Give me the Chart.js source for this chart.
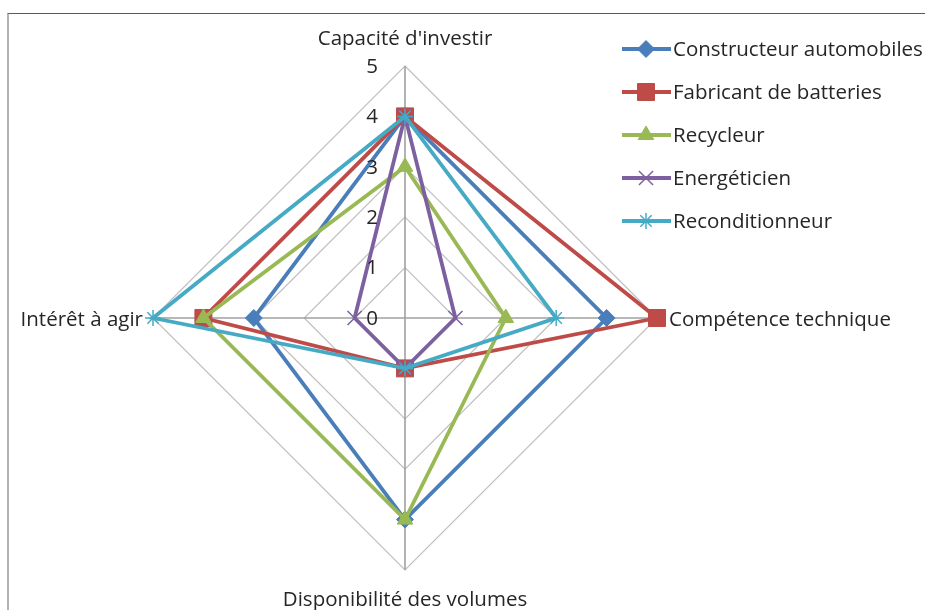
<!DOCTYPE html>
<html lang="fr">
<head>
<meta charset="UTF-8">
<title>Positionnement des acteurs</title>
<script src="https://cdn.jsdelivr.net/npm/chart.js"></script>
<style>
  html, body { margin: 0; padding: 0; background: #fff; }
  .cadre { position: relative; width: 925px; height: 610px; overflow: hidden; }
  .bord { position: absolute; left: 7px; top: 13px; right: -5px; bottom: -5px;
          border-top: 1px solid #5a5a5a; border-left: 2px solid #b4b4b4; }
  canvas { position: absolute; left: 0; top: 0; }
</style>
</head>
<body>
<div class="cadre">
  <div class="bord"></div>
  <canvas id="radar" width="925" height="610"></canvas>
</div>

<script>
// donnees
const axes = ["Capacité d'investir", 'Compétence technique', 'Disponibilité des volumes', 'Intérêt à agir'];
const acteurs = ['Constructeur automobiles', 'Fabricant de batteries', 'Recycleur', 'Energéticien', 'Reconditionneur'];
const constructeur = [4, 4, 4, 3];
const fabricant = [4, 5, 1, 4];
const recycleur = [3, 2, 4, 4];
const energeticien = [4, 1, 1, 1];
const reconditionneur = [4, 3, 1, 5];
const graduations = [0, 1, 2, 3, 4, 5];

const couleurs = ['#4a7ebb', '#be4b48', '#98b954', '#7d60a0', '#46aac5'];
const marqueurs = ['rectRot', 'rect', 'triangle', 'crossRot', 'star'];
const tailles = [8.5, 12, 9, 10, 8];
const police = '"Open Sans", "DejaVu Sans", sans-serif';

const valeurs = [constructeur, fabricant, recycleur, energeticien, reconditionneur];

const datasets = acteurs.map(function (nom, i) {
    const trait = marqueurs[i] == 'crossRot' || marqueurs[i] == 'star';
    return {
        label: nom,
        data: valeurs[i],
        borderColor: couleurs[i],
        backgroundColor: couleurs[i],
        borderWidth: 3.8,
        fill: false,
        pointStyle: marqueurs[i],
        pointRadius: tailles[i],
        pointBorderWidth: trait ? 1.5 : 1,
        pointBackgroundColor: couleurs[i],
        pointBorderColor: couleurs[i],
        order: acteurs.length - i
    };
});

// textes des axes, graduations et legende dessines a la main
const habillage = {
    id: 'habillage',
    afterDraw(chart) {
        const ctx = chart.ctx;
        const r = chart.scales.r;
        ctx.save();
        ctx.fillStyle = '#262626';
        ctx.font = '20.5px ' + police;
        ctx.textBaseline = 'middle';

        // graduations a gauche de l'axe vertical
        ctx.textAlign = 'right';
        graduations.forEach(function (v) {
            const p = r.getPointPositionForValue(0, v);
            ctx.fillText(String(v), p.x - 27, p.y + 1);
        });

        // noms des axes
        const max = graduations[graduations.length - 1];
        const haut = r.getPointPositionForValue(0, max);
        const droite = r.getPointPositionForValue(1, max);
        const bas = r.getPointPositionForValue(2, max);
        const gauche = r.getPointPositionForValue(3, max);
        ctx.textAlign = 'center';
        ctx.fillText(axes[0], haut.x, haut.y - 27);
        ctx.fillText(axes[2], bas.x, bas.y + 30);
        ctx.textAlign = 'left';
        ctx.fillText(axes[1], droite.x + 12, droite.y + 2);
        ctx.textAlign = 'right';
        ctx.fillText(axes[3], gauche.x - 10, gauche.y + 2);

        // legende
        ctx.textAlign = 'left';
        acteurs.forEach(function (nom, i) {
            const y = 49 + i * 43;
            ctx.strokeStyle = couleurs[i];
            ctx.lineWidth = 3.8;
            ctx.beginPath();
            ctx.moveTo(622, y);
            ctx.lineTo(671, y);
            ctx.stroke();
            ctx.fillStyle = couleurs[i];
            ctx.lineWidth = datasets[i].pointBorderWidth;
            Chart.helpers.drawPoint(ctx, { pointStyle: marqueurs[i], radius: tailles[i], rotation: 0, borderWidth: datasets[i].pointBorderWidth }, 646, y);
            ctx.fillStyle = '#262626';
            ctx.fillText(nom, 673, y + 1);
        });
        ctx.restore();
    }
};

const ctx = document.getElementById('radar').getContext('2d');
const graphique = new Chart(ctx, {
    type: 'radar',
    data: {
        labels: axes,
        datasets: datasets
    },
    options: {
        responsive: false,
        animation: false,
        layout: {
            padding: { left: 153, right: 268, top: 66, bottom: 40 }
        },
        scales: {
            r: {
                min: 0,
                max: 5,
                ticks: { stepSize: 1, display: false },
                pointLabels: { display: false },
                grid: { color: '#bfbfbf', lineWidth: 1.2 },
                angleLines: { color: '#a0a0a0', lineWidth: 1.6 }
            }
        },
        plugins: {
            legend: { display: false },
            tooltip: { enabled: false }
        }
    },
    plugins: [habillage]
});
</script>
</body>
</html>
